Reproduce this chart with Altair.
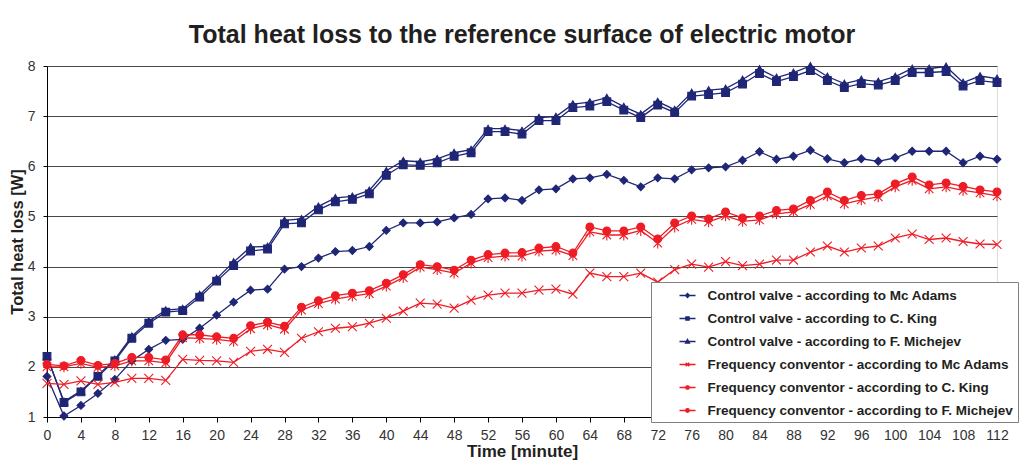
import altair as alt
import pandas as pd

minutes = list(range(0, 113, 2))
tick_values_x = list(range(0, 113, 4))
tick_values_y = [1, 2, 3, 4, 5, 6, 7, 8]

series_names = [
    "Control valve - according to Mc Adams",
    "Control valve - according to C. King",
    "Control valve - according to F. Michejev",
    "Frequency conventor - according to Mc Adams",
    "Frequency conventor - according to C. King",
    "Frequency conventor - according to F. Michejev",
]

cv_mc_adams = [1.81, 1.02, 1.23, 1.47, 1.75, 2.12, 2.35, 2.53, 2.55, 2.77, 3.03, 3.29, 3.53, 3.55, 3.95,
               4.00, 4.17, 4.30, 4.32, 4.40, 4.72, 4.87, 4.87, 4.89, 4.97, 5.04, 5.35, 5.37, 5.32, 5.53,
               5.55, 5.75, 5.77, 5.84, 5.72, 5.59, 5.77, 5.75, 5.93, 5.97, 5.99, 6.12, 6.29, 6.14, 6.20,
               6.32, 6.15, 6.07, 6.15, 6.10, 6.17, 6.30, 6.30, 6.30, 6.07, 6.20, 6.14]
cv_king = [2.21, 1.29, 1.50, 1.81, 2.12, 2.57, 2.87, 3.09, 3.12, 3.39, 3.71, 4.02, 4.31, 4.35, 4.85,
           4.87, 5.13, 5.29, 5.34, 5.45, 5.82, 6.03, 6.02, 6.07, 6.20, 6.27, 6.69, 6.69, 6.64, 6.91,
           6.91, 7.17, 7.20, 7.29, 7.12, 6.97, 7.22, 7.07, 7.40, 7.43, 7.47, 7.64, 7.85, 7.69, 7.79,
           7.91, 7.71, 7.57, 7.65, 7.62, 7.71, 7.87, 7.87, 7.89, 7.60, 7.71, 7.67]
cv_michejev = [2.21, 1.31, 1.52, 1.83, 2.15, 2.61, 2.91, 3.13, 3.16, 3.44, 3.76, 4.09, 4.39, 4.40, 4.92,
               4.95, 5.20, 5.37, 5.40, 5.52, 5.91, 6.11, 6.09, 6.15, 6.27, 6.33, 6.75, 6.75, 6.71, 6.97,
               6.99, 7.24, 7.28, 7.37, 7.19, 7.04, 7.29, 7.13, 7.47, 7.52, 7.55, 7.73, 7.94, 7.77, 7.87,
               8.00, 7.79, 7.65, 7.73, 7.69, 7.79, 7.95, 7.95, 7.99, 7.67, 7.80, 7.75]
fc_mc_adams = [1.67, 1.65, 1.72, 1.65, 1.69, 1.77, 1.77, 1.73, 2.15, 2.13, 2.12, 2.09, 2.31, 2.35, 2.29,
               2.57, 2.70, 2.77, 2.80, 2.87, 2.97, 3.11, 3.27, 3.25, 3.17, 3.33, 3.43, 3.47, 3.47, 3.53,
               3.55, 3.45, 3.87, 3.80, 3.80, 3.87, 3.69, 3.94, 4.05, 3.99, 4.10, 4.02, 4.05, 4.13, 4.13,
               4.29, 4.41, 4.29, 4.37, 4.41, 4.57, 4.65, 4.54, 4.57, 4.50, 4.45, 4.44]
fc_king = [2.00, 2.00, 2.07, 1.99, 2.02, 2.12, 2.12, 2.08, 2.58, 2.57, 2.55, 2.51, 2.76, 2.84, 2.75,
           3.13, 3.26, 3.35, 3.41, 3.46, 3.61, 3.78, 3.99, 3.94, 3.87, 4.07, 4.18, 4.21, 4.21, 4.31,
           4.33, 4.22, 4.69, 4.63, 4.63, 4.72, 4.47, 4.79, 4.94, 4.89, 5.01, 4.90, 4.93, 5.05, 5.09,
           5.24, 5.41, 5.25, 5.33, 5.39, 5.59, 5.72, 5.55, 5.59, 5.52, 5.47, 5.41]
fc_michejev = [2.05, 2.02, 2.13, 2.03, 2.07, 2.19, 2.19, 2.14, 2.64, 2.64, 2.60, 2.57, 2.82, 2.89, 2.81,
               3.19, 3.32, 3.42, 3.47, 3.52, 3.67, 3.84, 4.04, 4.00, 3.93, 4.13, 4.24, 4.27, 4.28, 4.37,
               4.40, 4.27, 4.79, 4.71, 4.71, 4.79, 4.55, 4.87, 5.01, 4.95, 5.09, 4.97, 5.01, 5.12, 5.15,
               5.32, 5.49, 5.32, 5.42, 5.45, 5.65, 5.79, 5.63, 5.67, 5.60, 5.53, 5.49]

all_series = [cv_mc_adams, cv_king, cv_michejev, fc_mc_adams, fc_king, fc_michejev]

rows = []
for name, vals in zip(series_names, all_series):
    for t, v in zip(minutes, vals):
        rows.append({"t": t, "v": v, "series": name})
df = pd.DataFrame(rows)

BLUE = "#1f2676"
RED = "#ee1c25"
colors = [BLUE, BLUE, BLUE, RED, RED, RED]

X_PATH = "M-1.15,-1.15L1.15,1.15M-1.15,1.15L1.15,-1.15"
AST_PATH = "M-1.1,-1.1L1.1,1.1M-1.1,1.1L1.1,-1.1M0,-1.4L0,1.4"
marker_shapes = ["diamond", "square", "triangle-up", X_PATH, AST_PATH, "circle"]

legend_shapes = [
    "M-1,0L1,0M0,-0.24L0.24,0L0,0.24L-0.24,0Z",
    "M-1,0L1,0M-0.2,-0.2L0.2,-0.2L0.2,0.2L-0.2,0.2Z",
    "M-1,0L1,0M0,-0.24L0.24,0.2L-0.24,0.2Z",
    "M-1,0L1,0M-0.22,-0.22L0.22,0.22M-0.22,0.22L0.22,-0.22",
    "M-1,0L1,0M-0.22,-0.22L0.22,0.22M-0.22,0.22L0.22,-0.22M0,-0.28L0,0.28",
    "M-1,0L1,0M-0.22,0A0.22,0.22,0,1,1,0.22,0A0.22,0.22,0,1,1,-0.22,0Z",
]

FONT = "Liberation Sans"
TEXT = "#231f20"

x_enc = alt.X(
    "t:Q",
    scale=alt.Scale(domain=[0, 112], nice=False, zero=False),
    axis=alt.Axis(
        values=tick_values_x, title="Time [minute]", grid=False,
        titleFont=FONT, titleFontSize=17, titleFontWeight="bold", titleColor=TEXT,
        labelFont=FONT, labelFontSize=14, labelColor="#333333", labelPadding=6,
        tickSize=5, tickColor="#000000", domainColor="#000000", titlePadding=1,
        labelFlush=False,
    ),
)
y_enc = alt.Y(
    "v:Q",
    scale=alt.Scale(domain=[1, 8], nice=False, zero=False),
    axis=alt.Axis(
        values=tick_values_y, title="Total heat loss [W]", grid=True,
        gridColor="#474747", gridWidth=1,
        titleFont=FONT, titleFontSize=16.5, titleFontWeight="bold", titleColor=TEXT,
        labelFont=FONT, labelFontSize=14, labelColor="#333333", labelPadding=8,
        tickSize=4, tickColor="#000000", domainColor="#000000", titlePadding=2,
    ),
)

base = alt.Chart(df)

lines = base.mark_line(strokeWidth=1.3).encode(
    x=x_enc,
    y=y_enc,
    color=alt.Color("series:N", scale=alt.Scale(domain=series_names, range=colors), legend=None),
)

points = base.mark_point(filled=True, size=60, strokeWidth=1.1, opacity=1).encode(
    x=x_enc,
    y=y_enc,
    shape=alt.Shape("series:N", scale=alt.Scale(domain=series_names, range=marker_shapes), legend=None),
    fill=alt.Fill("series:N", scale=alt.Scale(domain=series_names, range=colors), legend=None),
    stroke=alt.Stroke("series:N", scale=alt.Scale(domain=series_names, range=colors), legend=None),
)

leg = alt.Legend(
    title=None, orient="none", legendX=604, legendY=216,
    labelFont=FONT, labelFontSize=13.5, labelFontWeight="bold", labelColor=TEXT,
    labelLimit=500, symbolSize=256, symbolStrokeWidth=1.4,
    rowPadding=7, padding=4.5, symbolOffset=23, labelOffset=11,
    fillColor="#ffffff", strokeColor="#808080", zindex=2,
)

legend_layer = base.transform_filter("datum.t < 0").mark_point(
    filled=True, size=256, strokeWidth=1.4, opacity=1
).encode(
    shape=alt.Shape("series:N", scale=alt.Scale(domain=series_names, range=legend_shapes), legend=leg),
    fill=alt.Fill("series:N", scale=alt.Scale(domain=series_names, range=colors), legend=leg),
    stroke=alt.Stroke("series:N", scale=alt.Scale(domain=series_names, range=colors), legend=leg),
)

chart = alt.layer(lines, points, legend_layer).resolve_scale(
    shape="independent", fill="independent", stroke="independent"
).properties(
    width=950,
    height=351,
    title=alt.TitleParams(
        "Total heat loss to the reference surface of electric motor",
        font=FONT, fontSize=25, fontWeight="bold", color=TEXT, anchor="middle", offset=11,
    ),
    autosize=alt.AutoSizeParams(type="none"),
    padding={"left": 47, "top": 66, "right": 22, "bottom": 47},
).configure_view(stroke=None).configure_legend(strokeWidth=2).configure(background="white")

chart.save("out.html", embed_options={"renderer": "svg", "actions": False})
